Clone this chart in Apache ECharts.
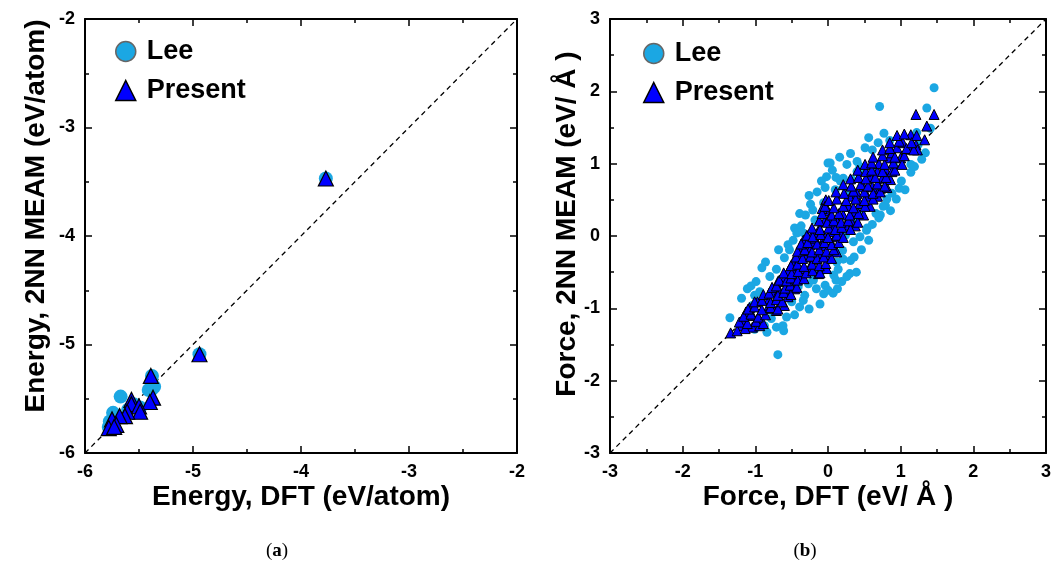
<!DOCTYPE html>
<html>
<head>
<meta charset="utf-8">
<script src="https://cdn.jsdelivr.net/npm/echarts@6/dist/echarts.min.js"></script>
<style>
  html, body { margin: 0; padding: 0; background: #fff; }
  #chart { width: 1064px; height: 565px; }
</style>
</head>
<body>
<div id="chart"></div>
<script>
// panel (a): energy
const energyTicks = [-6, -2]
const energyLee = [
  [-3.77, -3.47], [-4.94, -5.09], [-5.38, -5.29], [-5.38, -5.41], [-5.36, -5.39],
  [-5.41, -5.42], [-5.67, -5.48], [-5.55, -5.55], [-5.49, -5.58], [-5.60, -5.60],
  [-5.74, -5.63], [-5.77, -5.71], [-5.78, -5.76]
]
const energyPresent = [
  [-3.77, -3.47], [-4.94, -5.09], [-5.39, -5.29], [-5.37, -5.49], [-5.40, -5.53],
  [-5.57, -5.51], [-5.57, -5.55], [-5.50, -5.57], [-5.49, -5.62], [-5.61, -5.62],
  [-5.63, -5.66], [-5.68, -5.66], [-5.75, -5.69], [-5.71, -5.74], [-5.78, -5.77],
  [-5.73, -5.76]
]
const energyDiag = [[-6, -6], [-2, -2]]

// panel (b): force
const forceTicks = [-3, 3]
const forceLee = [
  [0.00, 1.01], [-0.02, 0.82], [-0.04, 0.67], [-0.26, 0.56], [-0.39, 0.31], [-0.46, 0.11],
  [-0.37, 0.14], [-0.18, 0.22], [0.71, 1.79], [1.36, 1.77], [1.46, 2.05], [0.77, 1.42],
  [0.85, 1.32], [1.22, 1.43], [1.34, 1.15], [0.51, 1.22], [0.26, 0.99], [0.40, 1.03],
  [0.44, 0.96], [0.40, 0.89], [0.49, 0.89], [0.21, 0.80], [0.33, 0.78], [0.17, 0.76],
  [1.14, 0.99], [1.14, 0.88], [0.98, 0.66], [1.06, 0.64], [0.88, 0.59], [0.79, 0.42],
  [0.86, 0.35], [0.72, 0.29], [0.70, 0.25], [0.54, 0.11], [0.03, 1.01], [0.10, 0.64],
  [-0.69, -1.64], [-1.35, -1.13], [-0.86, -0.36], [-0.68, -0.19], [-0.99, -0.63],
  [-1.11, -0.73], [-1.01, -0.82], [-0.94, -0.77], [-1.04, -0.96], [-0.78, -1.14],
  [-0.71, -1.26], [-0.62, -1.24], [-0.57, -1.12], [-0.875, -1.24], [-0.50, -0.91],
  [-0.39, -0.98], [-0.34, -0.89], [-0.32, -0.82], [-0.41, -0.70], [-0.27, -0.66],
  [-0.16, -0.73], [-0.20, -0.61], [-0.11, -0.52], [-0.04, -0.68], [-0.06, -0.80],
  [0.00, -0.75], [-0.53, -0.19], [-0.48, -0.06], [-0.43, 0.04], [0.07, -0.79],
  [0.13, -0.73], [0.19, -0.63], [0.30, -0.52], [0.39, -0.50], [0.08, -0.54],
  [0.14, -0.46], [0.21, -0.32], [0.12, -0.36], [0.20, -0.20], [0.35, -0.08],
  [0.44, -0.01], [0.53, 0.08], [0.24, 0.01],
  [-0.60, -0.30], [-0.55, -0.12], [-0.31, 0.29], [-0.24, 0.44], [-0.15, 0.61],
  [-0.09, 0.76], [0.06, 0.91], [0.16, 1.09], [0.31, 1.14], [-0.35, 0.05],
  [-0.71, -0.46], [-0.80, -0.56], [-0.91, -0.44], [-1.19, -0.86], [-1.06, -0.69],
  [-0.21, 0.36], [-0.06, 0.46], [0.11, 0.81], [0.26, 0.62], [0.61, 1.19],
  [0.56, 1.36], [0.69, 1.29], [0.31, -0.34], [0.46, -0.19], [0.56, -0.06],
  [0.61, 0.16], [0.66, 0.31], [0.76, 0.41], [0.94, 0.51], [1.01, 0.76],
  [1.19, 0.96], [1.29, 1.06], [0.26, -0.56], [0.36, -0.29], [-0.11, -0.94],
  [-0.26, -1.01], [-0.46, -1.09], [-0.61, -1.31], [-0.84, -1.33], [-1.01, -1.29],
  [0.11, -0.61], [0.36, 0.21], [0.46, 0.36], [0.81, 0.51], [0.91, 0.96],
  [1.24, 1.26], [1.41, 1.49], [-0.12, 0.05], [0.02, -0.33], [0.62, 0.92]
]
const forcePresent = [
  [-1.34, -1.34], [-1.18, -1.17], [-1.20, -1.24], [-1.04, -1.26], [-0.94, -1.24],
  [-0.95, -1.14], [-1.04, -1.10], [-1.13, -1.05], [-1.08, -0.99], [-0.97, -0.91],
  [-0.83, -1.00], [-0.71, -1.03], [-0.78, -0.96], [-0.60, -0.96], [-0.81, -0.87],
  [-0.76, -0.77], [-0.67, -0.75], [-0.55, -0.84], [-0.57, -0.75], [-0.46, -0.73],
  [-0.69, -0.63], [-0.60, -0.59], [-0.48, -0.61], [-0.39, -0.56], [-0.55, -0.49],
  [-0.46, -0.45], [-0.34, -0.45], [-0.25, -0.43], [-0.48, -0.36], [-0.39, -0.31],
  [-0.30, -0.29], [-0.18, -0.33], [-0.13, -0.24], [-0.39, -0.19], [-0.30, -0.15],
  [-0.20, -0.10], [-0.09, -0.13], [-0.34, -0.06], [-0.18, -0.03], [-0.04, -0.01],
  [-0.04, -0.26], [-0.02, -0.45], [-0.13, -0.52], [0.12, -0.22], [0.10, -0.01],
  [0.17, 0.04], [0.05, 0.06], [0.07, 0.13], [0.24, 0.15], [0.375, 0.14], [0.12, 0.22],
  [0.31, 0.22], [0.21, 0.29], [0.49, 0.29], [0.375, 0.34], [0.28, 0.41], [0.58, 0.41],
  [0.44, 0.45], [0.31, 0.55], [0.54, 0.55], [0.68, 0.55], [0.40, 0.59], [0.61, 0.68],
  [0.49, 0.68], [0.72, 0.66], [0.81, 0.67], [0.58, 0.82], [0.75, 0.80], [0.86, 0.78],
  [0.79, 0.92], [0.68, 0.89], [0.88, 0.89], [0.70, 1.00], [0.84, 1.08], [1.00, 1.08],
  [0.88, 1.15], [0.95, 1.22], [1.03, 1.29], [1.12, 1.20], [1.21, 1.26], [1.23, 1.19],
  [1.14, 1.40], [1.33, 1.33], [1.36, 1.52], [1.21, 1.68], [1.46, 1.68],
  [-0.03, 0.50], [0.00, 0.35], [-0.05, 0.20], [-0.12, 0.10], [-0.20, 0.05], [0.02, 0.25],
  [-0.08, 0.38], [-0.25, -0.20], [0.05, -0.10],
  [-1.25, -1.31], [-1.14, -1.28], [-1.22, -1.19], [-1.11, -1.21], [-0.99, -1.18],
  [-0.89, -1.21], [-1.16, -1.11], [-1.06, -1.08], [-0.96, -1.12], [-0.86, -1.09],
  [-1.10, -1.01], [-1.01, -0.98], [-0.91, -1.02], [-0.79, -0.99], [-0.69, -1.01],
  [-1.01, -0.91], [-0.91, -0.89], [-0.79, -0.92], [-0.71, -0.88], [-0.63, -0.91],
  [-0.89, -0.81], [-0.81, -0.79], [-0.69, -0.82], [-0.61, -0.78], [-0.51, -0.81],
  [-0.77, -0.71], [-0.71, -0.69], [-0.59, -0.72], [-0.52, -0.68], [-0.43, -0.71],
  [-0.67, -0.61], [-0.57, -0.62], [-0.51, -0.58], [-0.42, -0.61], [-0.33, -0.59],
  [-0.61, -0.51], [-0.50, -0.52], [-0.41, -0.49], [-0.30, -0.51], [-0.21, -0.48],
  [-0.11, -0.51], [-0.51, -0.41], [-0.42, -0.39], [-0.33, -0.42], [-0.22, -0.39],
  [-0.12, -0.41], [-0.03, -0.38], [-0.44, -0.29], [-0.35, -0.31], [-0.24, -0.28],
  [-0.15, -0.31], [-0.06, -0.29], [0.05, -0.31], [-0.42, -0.21], [-0.32, -0.19],
  [-0.22, -0.22], [-0.12, -0.19], [-0.02, -0.21], [0.08, -0.19], [-0.37, -0.11],
  [-0.28, -0.09], [-0.15, -0.11], [-0.05, -0.09], [0.05, -0.12], [0.15, -0.09],
  [-0.29, 0.01], [-0.21, -0.01], [-0.10, 0.02], [0.00, -0.02], [0.12, 0.01],
  [0.21, -0.02], [-0.22, 0.11], [-0.11, 0.09], [0.01, 0.11], [0.10, 0.09],
  [0.19, 0.12], [0.31, 0.09], [-0.12, 0.21], [-0.01, 0.19], [0.08, 0.21],
  [0.18, 0.19], [0.28, 0.21], [0.41, 0.19], [-0.08, 0.31], [0.05, 0.29],
  [0.15, 0.31], [0.30, 0.29], [0.42, 0.31], [-0.04, 0.41], [0.08, 0.39],
  [0.21, 0.41], [0.35, 0.39], [0.51, 0.41], [0.01, 0.49], [0.12, 0.51],
  [0.25, 0.49], [0.38, 0.51], [0.50, 0.49], [0.62, 0.51], [0.11, 0.61],
  [0.22, 0.59], [0.35, 0.62], [0.50, 0.61], [0.62, 0.59], [0.72, 0.61],
  [0.21, 0.71], [0.32, 0.69], [0.45, 0.71], [0.55, 0.69], [0.68, 0.72],
  [0.78, 0.69], [0.31, 0.79], [0.42, 0.81], [0.52, 0.79], [0.65, 0.81],
  [0.80, 0.81], [0.41, 0.91], [0.52, 0.89], [0.60, 0.91], [0.75, 0.89],
  [0.92, 0.91], [0.51, 0.99], [0.60, 1.01], [0.78, 0.99], [0.90, 1.01],
  [1.02, 0.99], [0.62, 1.09], [0.75, 1.11], [0.92, 1.09], [1.05, 1.11],
  [0.75, 1.19], [0.85, 1.21], [1.08, 1.21], [1.18, 1.19], [0.85, 1.29],
  [0.98, 1.31], [1.15, 1.29], [0.95, 1.39], [1.05, 1.41], [1.22, 1.39]
]
const forceDiag = [[-3, -3], [3, 3]]

const FONT = 'Liberation Sans'
const LEE_COLOR = '#1ba7e3'
const PRESENT_COLOR = '#0000ff'

function axisPair(grid, ticks, pos, withLabel, name, nameGap, namePad) {
  return {
    gridIndex: grid, type: 'value', position: pos,
    min: ticks[0], max: ticks[1], interval: 1,
    name: withLabel ? name : '', nameLocation: 'middle', nameGap: nameGap,
    nameMoveOverlap: false,
    nameTextStyle: {
      fontFamily: FONT, fontWeight: 'bold', fontSize: 28, color: '#000',
      padding: namePad || 0
    },
    axisLine: { show: true, onZero: false, lineStyle: { color: '#000', width: 2 } },
    axisTick: { show: true, inside: true, length: 7, lineStyle: { color: '#000', width: 1.5 } },
    minorTick: { show: true, splitNumber: 2, length: 4, lineStyle: { color: '#000', width: 1.5 } },
    axisLabel: {
      show: withLabel, margin: 10,
      fontFamily: FONT, fontWeight: 'bold', fontSize: 18, color: '#000'
    },
    splitLine: { show: false }
  }
}

function legendFor(left, top) {
  return {
    left: left, top: top, orient: 'vertical', itemGap: 12, itemWidth: 20, itemHeight: 20,
    textStyle: { fontFamily: FONT, fontWeight: 'bold', fontSize: 27, color: '#000', padding: [0, 0, 0, 6] },
    data: [
      { name: 'Lee', icon: 'circle', itemStyle: { color: LEE_COLOR, borderColor: '#666', borderWidth: 1.5 } },
      { name: 'Present', icon: 'triangle', itemStyle: { color: PRESENT_COLOR, borderColor: '#000', borderWidth: 1.5 } }
    ]
  }
}

function caption(letter, x) {
  return {
    text: '({b|' + letter + '})', left: x, top: 537, textAlign: 'center',
    textStyle: {
      fontFamily: 'Liberation Serif', fontSize: 19, fontWeight: 'normal', color: '#000',
      rich: { b: { fontFamily: 'Liberation Serif', fontSize: 19, fontWeight: 'bold' } }
    }
  }
}

const option = {
  animation: false,
  backgroundColor: '#fff',
  grid: [
    { left: 85, top: 19, width: 432, height: 434 },
    { left: 610, top: 19, width: 436, height: 434 }
  ],
  title: [caption('a', 272), caption('b', 800)],
  legend: [legendFor(110, 33), legendFor(638, 35)],
  xAxis: [
    axisPair(0, energyTicks, 'bottom', true, 'Energy, DFT (eV/atom)', 30),
    axisPair(0, energyTicks, 'top', false, '', 0),
    axisPair(1, forceTicks, 'bottom', true, 'Force, DFT (eV/ Å )', 30),
    axisPair(1, forceTicks, 'top', false, '', 0)
  ],
  yAxis: [
    axisPair(0, energyTicks, 'left', true, 'Energy, 2NN MEAM (eV/atom)', 35, [0, 0, 0, 40]),
    axisPair(0, energyTicks, 'right', false, '', 0),
    axisPair(1, forceTicks, 'left', true, 'Force, 2NN MEAM (eV/ Å )', 29, [0, 0, 0, 24]),
    axisPair(1, forceTicks, 'right', false, '', 0)
  ],
  series: [
    {
      type: 'line', xAxisIndex: 0, yAxisIndex: 0, data: energyDiag, symbol: 'none', silent: true,
      lineStyle: { color: '#000', width: 1.3, type: [5, 4] }, z: 1
    },
    {
      name: 'Lee', type: 'scatter', xAxisIndex: 0, yAxisIndex: 0, data: energyLee,
      symbol: 'circle', symbolSize: 14,
      itemStyle: { color: LEE_COLOR, opacity: 1 }, z: 2
    },
    {
      name: 'Present', type: 'scatter', xAxisIndex: 0, yAxisIndex: 0, data: energyPresent,
      symbol: 'triangle', symbolSize: 15,
      itemStyle: { color: PRESENT_COLOR, borderColor: '#000', borderWidth: 1.2, opacity: 1 }, z: 3
    },
    {
      type: 'line', xAxisIndex: 2, yAxisIndex: 2, data: forceDiag, symbol: 'none', silent: true,
      lineStyle: { color: '#000', width: 1.3, type: [5, 4] }, z: 1
    },
    {
      name: 'Lee', type: 'scatter', xAxisIndex: 2, yAxisIndex: 2, data: forceLee,
      symbol: 'circle', symbolSize: 9,
      itemStyle: { color: LEE_COLOR, opacity: 1 }, z: 2
    },
    {
      name: 'Present', type: 'scatter', xAxisIndex: 2, yAxisIndex: 2, data: forcePresent,
      symbol: 'triangle', symbolSize: 10,
      itemStyle: { color: PRESENT_COLOR, borderColor: '#000', borderWidth: 1, opacity: 1 }, z: 3
    }
  ]
}

const chart = echarts.init(document.getElementById('chart'), null, { renderer: 'canvas' })
chart.setOption(option)
</script>
</body>
</html>
